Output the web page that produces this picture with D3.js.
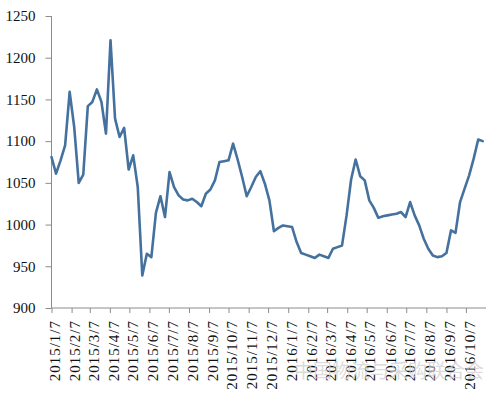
<!DOCTYPE html>
<html>
<head>
<meta charset="utf-8">
<script src="https://cdn.jsdelivr.net/npm/d3@7"></script>
<style>
  html, body { margin: 0; padding: 0; background: #fff; }
  svg { display: block; }
</style>
</head>
<body>
<svg id="chart" width="494" height="393"></svg>
<script>
// ---- data ----
const startDate = "2015/1/7";           // first weekly observation
const tickLabels = [
  "2015/1/7","2015/2/7","2015/3/7","2015/4/7","2015/5/7","2015/6/7",
  "2015/7/7","2015/8/7","2015/9/7","2015/10/7","2015/11/7","2015/12/7",
  "2016/1/7","2016/2/7","2016/3/7","2016/4/7","2016/5/7","2016/6/7",
  "2016/7/7","2016/8/7","2016/9/7","2016/10/7"
];
const yTicks = [900, 950, 1000, 1050, 1100, 1150, 1200, 1250];
const values = [
  1081, 1061, 1077, 1095, 1159, 1117, 1050, 1060, 1142, 1147,
  1162, 1147, 1109, 1221, 1127, 1105, 1116, 1066, 1083, 1045,
   939,  965,  961, 1014, 1034, 1009, 1063, 1045, 1035, 1030,
  1029, 1031, 1027, 1022, 1037, 1042, 1053, 1075, 1076, 1077,
  1097, 1078, 1057, 1034, 1045, 1057, 1064, 1049, 1029,  992,
   996,  999,  998,  997,  979,  966,  964,  962,  960,  964,
   962,  960,  971,  973,  975, 1011, 1054, 1078, 1058, 1053,
  1029, 1020, 1008, 1010, 1011, 1012, 1013, 1015, 1009, 1027,
  1011,  999,  983,  971,  963,  961,  962,  966,  993,  990,
  1027, 1043, 1059, 1079, 1102, 1100
];
const watermark = "中国物流与采购联合会";

// ---- build ----
(function () {
const parse = d3.timeParse("%Y/%m/%d");
const t0 = parse(startDate);
const data = values.map((v, i) => ({ date: d3.timeDay.offset(t0, 7 * i), value: v }));
const tickDates = tickLabels.map(parse);

const svg = d3.select("#chart");
const mLeft = 51.5, mRight = 486, mTop = 16, mBottom = 308;

const x = d3.scaleTime()
  .domain([t0, d3.timeDay.offset(t0, 670)])
  .range([mLeft, mRight]);
const y = d3.scaleLinear()
  .domain([900, 1250])
  .range([mBottom, mTop]);

const axisColor = "#8c8c8c";

// y axis
const yAxis = svg.append("g")
  .attr("transform", `translate(${mLeft},0)`)
  .call(d3.axisLeft(y).tickValues(yTicks).tickSize(6).tickPadding(10).tickFormat(d3.format("d")));
yAxis.select(".domain").attr("stroke", axisColor).attr("d", `M0,${mTop}V${mBottom}`);
yAxis.selectAll(".tick line").attr("stroke", axisColor);
yAxis.selectAll(".tick text")
  .attr("fill", "#111")
  .style("font-family", "'Liberation Serif', 'Times New Roman', serif")
  .style("font-size", "15px");

// x axis
const xAxis = svg.append("g")
  .attr("transform", `translate(0,${mBottom})`)
  .call(d3.axisBottom(x).tickValues(tickDates).tickSize(5).tickFormat((d, i) => tickLabels[i]));
xAxis.select(".domain").attr("stroke", axisColor).attr("d", `M${mLeft},0H${mRight}`);
xAxis.selectAll(".tick line").attr("stroke", axisColor);
xAxis.selectAll(".tick text")
  .attr("fill", "#111")
  .attr("text-anchor", "end")
  .attr("transform", "translate(3,12) rotate(-90)")
  .attr("x", 0).attr("y", 0).attr("dy", "0.35em")
  .style("font-family", "'Liberation Serif', 'Times New Roman', serif")
  .style("font-size", "15px")
  .style("letter-spacing", "1px");

// line
const line = d3.line()
  .x(d => x(d.date))
  .y(d => y(d.value));
svg.append("path")
  .datum(data)
  .attr("fill", "none")
  .attr("stroke", "#44719e")
  .attr("stroke-width", 2.6)
  .attr("stroke-linejoin", "round")
  .attr("stroke-linecap", "round")
  .attr("d", line);

// watermark
svg.append("text")
  .attr("x", 294).attr("y", 378)
  .attr("fill", "#cfcfcf")
  .attr("fill-opacity", 0.75)
  .style("font-family", "'Noto Sans CJK SC', sans-serif")
  .style("font-size", "19px")
  .text(watermark);
})();
</script>
</body>
</html>
